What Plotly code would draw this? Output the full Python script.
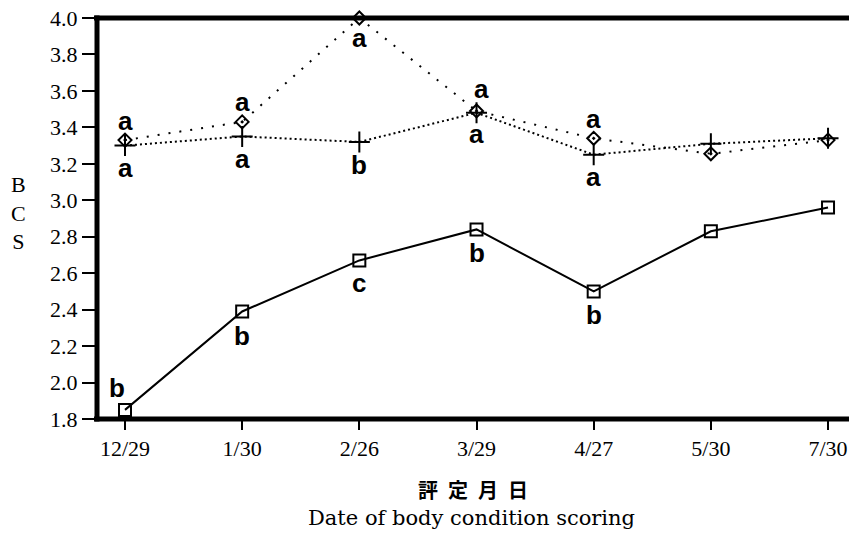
import plotly.graph_objects as go

dates = ["12/29", "1/30", "2/26", "3/29", "4/27", "5/30", "7/30"]
square_vals = [1.85, 2.39, 2.67, 2.84, 2.50, 2.83, 2.96]
diamond_vals = [3.33, 3.43, 4.00, 3.49, 3.34, 3.255, 3.33]
plus_vals = [3.30, 3.35, 3.32, 3.48, 3.25, 3.31, 3.34]

square_letters = ["b", "b", "c", "b", "b", "", ""]
diamond_letters = ["a", "a", "a", "a", "a", "", ""]
plus_letters = ["a", "a", "b", "a", "a", "", ""]

y_ticks = [1.8, 2.0, 2.2, 2.4, 2.6, 2.8, 3.0, 3.2, 3.4, 3.6, 3.8, 4.0]

# label offsets in pixels (xshift, yshift)
square_off = [(-8, 22), (0, -25), (0, -23), (0, -24), (0, -24), (0, 0), (0, 0)]
diamond_off = [(0, 19), (0, 20), (0, -20), (5, 22), (0, 19), (0, 0), (0, 0)]
plus_off = [(0, -22), (0, -23), (0, -23), (0, -21), (0, -22), (0, 0), (0, 0)]

xi = list(range(len(dates)))

fig = go.Figure()
fig.add_trace(go.Scatter(
    x=xi, y=diamond_vals, mode="lines+markers", cliponaxis=False,
    line=dict(color="black", width=2, dash="2px,9px"),
    marker=dict(symbol="diamond-open-dot", size=10, color="black", line=dict(width=2, color="black")),
    showlegend=False))
fig.add_trace(go.Scatter(
    x=xi, y=plus_vals, mode="lines+markers", cliponaxis=False,
    line=dict(color="black", width=2, dash="2px,3px"),
    marker=dict(symbol="cross-thin", size=15, color="black", line=dict(width=2, color="black")),
    showlegend=False))
fig.add_trace(go.Scatter(
    x=xi, y=square_vals, mode="lines+markers", cliponaxis=False,
    line=dict(color="black", width=2),
    marker=dict(symbol="square-open", size=12, color="black", line=dict(width=2, color="black")),
    showlegend=False))

letter_font = dict(family="Liberation Sans, Arial, sans-serif", size=26, color="black")
for vals, letters, offs in [(square_vals, square_letters, square_off),
                            (diamond_vals, diamond_letters, diamond_off),
                            (plus_vals, plus_letters, plus_off)]:
    for i, (v, t, o) in enumerate(zip(vals, letters, offs)):
        if t:
            fig.add_annotation(x=i, y=v, text="<b>" + t + "</b>", showarrow=False,
                               xshift=o[0], yshift=o[1], font=letter_font)

serif = "Liberation Serif, Times New Roman, serif"
wide_serif = "DejaVu Serif, serif"

# frame (left, top, bottom) drawn centred on the plot edges
frame = dict(color="black", width=5)
fig.add_shape(type="line", xref="paper", yref="paper", x0=0, x1=0, y0=-0.006, y1=1.006,
              line=frame, layer="below")
fig.add_shape(type="line", xref="paper", yref="paper", x0=-0.004, x1=1, y0=1, y1=1,
              line=frame, layer="below")
fig.add_shape(type="line", xref="paper", yref="paper", x0=-0.004, x1=1, y0=0, y1=0,
              line=frame, layer="below")

fig.add_annotation(xref="paper", yref="paper", x=-0.104, y=0.513, text="B<br>C<br>S",
                   showarrow=False, xanchor="center", yanchor="middle",
                   font=dict(family=serif, size=22, color="black"))
fig.add_annotation(xref="paper", yref="paper", x=0.4995, y=-0.177,
                   text="<b>評\u2002定\u2002月\u2002日</b>",
                   showarrow=False, xanchor="center", yanchor="middle",
                   font=dict(family="Noto Sans CJK JP", size=20, color="black"))
fig.add_annotation(xref="paper", yref="paper", x=0.4975, y=-0.248, text="Date of body condition scoring",
                   showarrow=False, xanchor="center", yanchor="middle",
                   font=dict(family=wide_serif, size=21, color="black"))

fig.update_layout(
    width=849, height=533,
    margin=dict(l=97, r=0, t=18, b=114),
    paper_bgcolor="white", plot_bgcolor="white",
    xaxis=dict(range=[-0.239, 6.179], tickmode="array", tickvals=xi, ticktext=dates,
               showgrid=False, zeroline=False, showline=False,
               ticks="outside", ticklen=10, tickwidth=2, tickcolor="black",
               tickfont=dict(family=serif, size=22, color="black")),
    yaxis=dict(range=[1.8, 4.0], tickmode="array", tickvals=y_ticks,
               ticktext=[f"{v:.1f}" for v in y_ticks],
               showgrid=False, zeroline=False, showline=False,
               ticks="outside", ticklen=14, tickwidth=2, tickcolor="black",
               tickfont=dict(family=serif, size=22, color="black")),
)

fig.write_html("out.html", config={"displayModeBar": False},
               post_script="document.body.style.margin='0';")
